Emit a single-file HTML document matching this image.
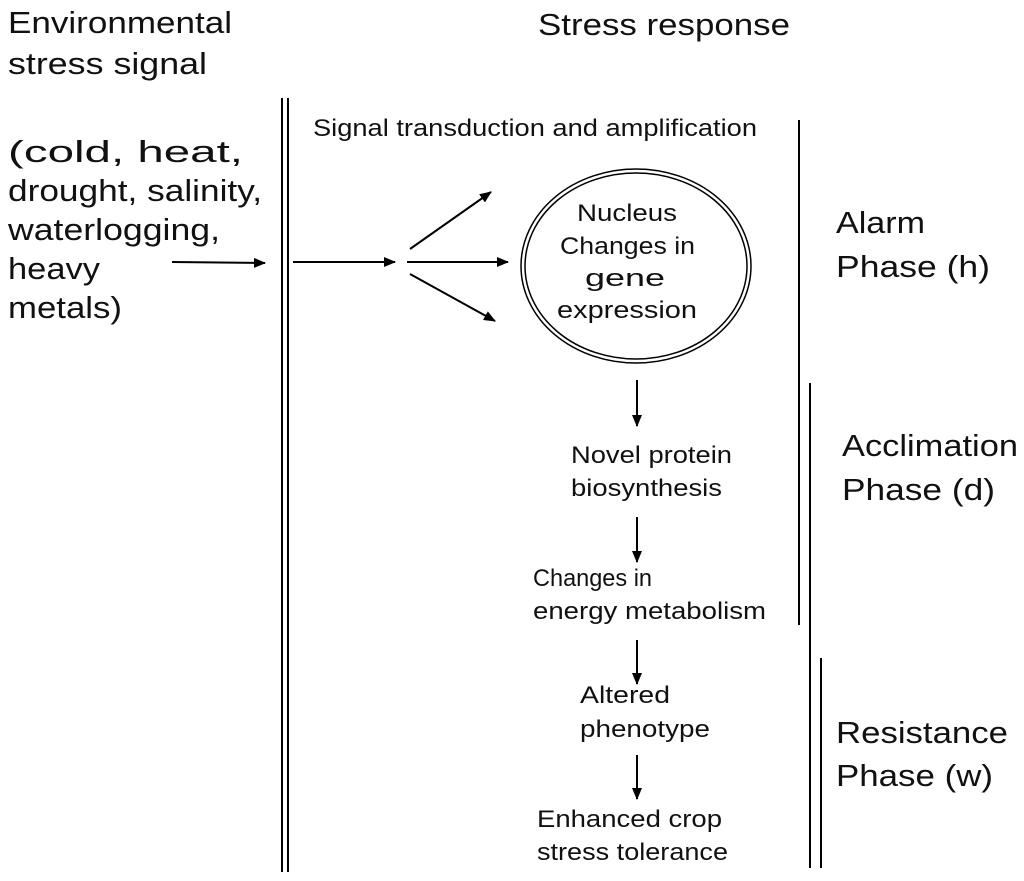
<!DOCTYPE html>
<html><head><meta charset="utf-8"><style>
html,body{margin:0;padding:0;background:#fff;}
svg{display:block;font-family:"Liberation Sans",Arial,sans-serif;}
</style></head><body>
<svg width="1024" height="881" viewBox="0 0 1024 881" xmlns="http://www.w3.org/2000/svg">
<defs>
<marker id="a" markerWidth="12" markerHeight="10" refX="11" refY="5" orient="auto" markerUnits="userSpaceOnUse">
<path d="M0,0 L12,5 L0,10 z" fill="#000"/></marker>
</defs>
<g font-size="31" fill="#111" lengthAdjust="spacingAndGlyphs">
<text x="8" y="33" textLength="224" lengthAdjust="spacingAndGlyphs">Environmental</text>
<text x="8" y="74" textLength="199" lengthAdjust="spacingAndGlyphs">stress signal</text>
<text x="8" y="162" textLength="235" lengthAdjust="spacingAndGlyphs">(cold, heat,</text>
<text x="8" y="201" textLength="254" lengthAdjust="spacingAndGlyphs">drought, salinity,</text>
<text x="8" y="240" textLength="212" lengthAdjust="spacingAndGlyphs">waterlogging,</text>
<text x="8" y="279" textLength="92" lengthAdjust="spacingAndGlyphs">heavy</text>
<text x="8" y="318" textLength="114" lengthAdjust="spacingAndGlyphs">metals)</text>
<text x="538" y="35" textLength="252" lengthAdjust="spacingAndGlyphs">Stress response</text>
<text x="836" y="233" textLength="89" lengthAdjust="spacingAndGlyphs">Alarm</text>
<text x="836" y="277" textLength="154" lengthAdjust="spacingAndGlyphs">Phase (h)</text>
<text x="842" y="456" textLength="176" lengthAdjust="spacingAndGlyphs">Acclimation</text>
<text x="842" y="500" textLength="153" lengthAdjust="spacingAndGlyphs">Phase (d)</text>
<text x="836" y="743" textLength="172" lengthAdjust="spacingAndGlyphs">Resistance</text>
<text x="836" y="786" textLength="157" lengthAdjust="spacingAndGlyphs">Phase (w)</text>
</g>
<g font-size="24" fill="#111">
<text x="313" y="136" textLength="444" lengthAdjust="spacingAndGlyphs">Signal transduction and amplification</text>
<text x="577" y="221" textLength="100" lengthAdjust="spacingAndGlyphs">Nucleus</text>
<text x="560" y="254" textLength="135" lengthAdjust="spacingAndGlyphs">Changes in</text>
<text x="585" y="286" textLength="80" lengthAdjust="spacingAndGlyphs">gene</text>
<text x="557" y="318" textLength="140" lengthAdjust="spacingAndGlyphs">expression</text>
<text x="571" y="463" textLength="161" lengthAdjust="spacingAndGlyphs">Novel protein</text>
<text x="571" y="496" textLength="151" lengthAdjust="spacingAndGlyphs">biosynthesis</text>
<text x="533" y="586" textLength="119" lengthAdjust="spacingAndGlyphs">Changes in</text>
<text x="533" y="619" textLength="233" lengthAdjust="spacingAndGlyphs">energy metabolism</text>
<text x="580" y="703" textLength="90" lengthAdjust="spacingAndGlyphs">Altered</text>
<text x="580" y="737" textLength="130" lengthAdjust="spacingAndGlyphs">phenotype</text>
<text x="537" y="827" textLength="185" lengthAdjust="spacingAndGlyphs">Enhanced crop</text>
<text x="537" y="860" textLength="191" lengthAdjust="spacingAndGlyphs">stress tolerance</text>
</g>
<g fill="none" stroke="#000">
<line x1="282" y1="98" x2="282" y2="872" stroke-width="2"/>
<line x1="288" y1="98" x2="288" y2="872" stroke-width="2"/>
<line x1="799" y1="120" x2="799" y2="625" stroke-width="2"/>
<line x1="810" y1="383" x2="810" y2="868" stroke-width="2"/>
<line x1="821" y1="658" x2="821" y2="868" stroke-width="2"/>
<ellipse cx="636" cy="266" rx="115" ry="97" stroke-width="1.5"/>
<ellipse cx="636" cy="266" rx="111" ry="93" stroke-width="1.5"/>
<g stroke-width="2" marker-end="url(#a)">
<line x1="172" y1="262" x2="265" y2="263"/>
<line x1="293" y1="262" x2="395" y2="262"/>
<line x1="410" y1="249" x2="491" y2="192"/>
<line x1="407" y1="262" x2="508" y2="262"/>
<line x1="410" y1="274" x2="495" y2="321"/>
<line x1="637" y1="380" x2="637" y2="426"/>
<line x1="637" y1="517" x2="637" y2="562"/>
<line x1="637" y1="640" x2="637" y2="684"/>
<line x1="637" y1="755" x2="637" y2="799"/>
</g>
</g>
</svg>
</body></html>
